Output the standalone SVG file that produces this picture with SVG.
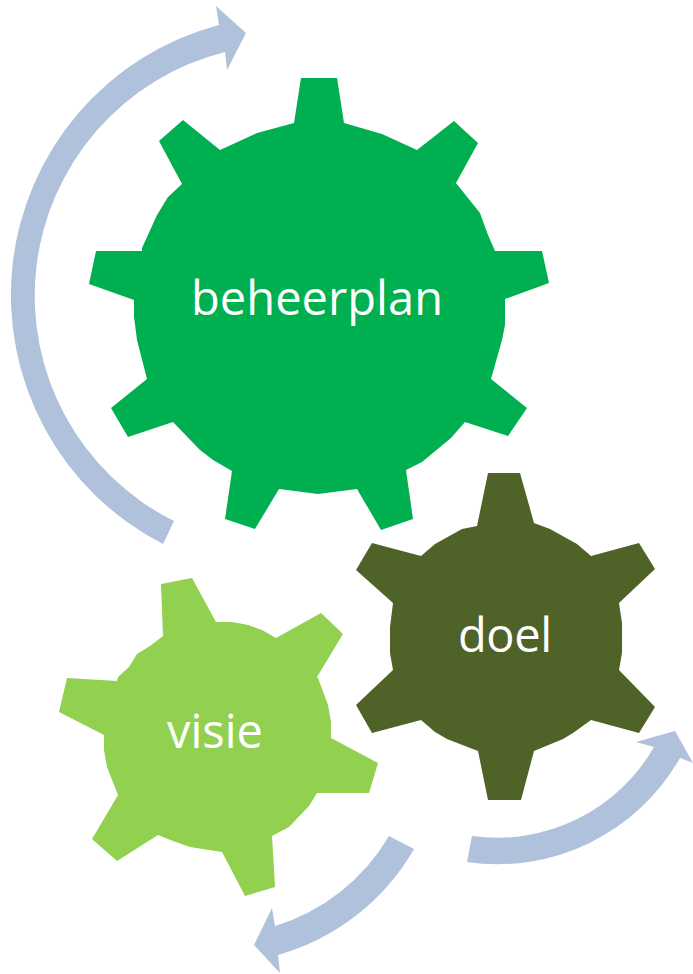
<svg xmlns="http://www.w3.org/2000/svg" width="693" height="974" viewBox="0 0 693 974">
<style>
.arrow{fill:#b0c1dc}
.label{fill:#fff;font-family:"Open Sans","Noto Sans","Liberation Sans",sans-serif;font-size:47px;font-weight:400;text-anchor:start}
</style>
<rect width="693" height="974" fill="#fff"/>
<g id="connectors">
<path id="arrow-big" class="arrow" d="M163 544A279.500 279.500 0 0 1 219 25L216 6L246 33L227 70L225 52A251.500 251.500 0 0 0 174 521Z"/>
<path id="arrow-right" class="arrow" d="M467 862L472 836A181 181 0 0 0 654 747L636 742L675 731L693 763L680 758A210 210 0 0 1 467 862Z"/>
<path id="arrow-bottom" class="arrow" d="M389 836L414 849A228 228 0 0 1 278 955L280 973L254 945L272 908L275 926A199.500 199.500 0 0 0 389 836Z"/>
</g>
<g id="node-beheerplan">
<polygon fill="#00b050" points="301,78 337,78 344,123 382,134 417,150 454,121 478,143 456,183 480,213 488,235 495,251 542,251 549,283 505,299 505,325 502,340 491,379 527,408 508,436 465,422 451,438 422,462 406,470 413,519 381,530 357,489 318,494 279,489 255,529 225,519 232,471 213,460 200,450 173,422 128,437 111,408 147,379 137,340 134,317 134,300 89,284 96,251 142,251 142,248 157,215 168,197 182,184 159,141 183,120 220,150 257,133 294,123"/>
<text class="label" x="191" y="315" textLength="252">beheerplan</text>
</g>
<g id="node-doel">
<polygon fill="#4f6228" points="488,473 520,473 534,523 550,529 577,544 591,556 639,543 655,569 619,603 622,623 622,653 619,670 655,707 639,733 591,720 573,733 563,739 534,751 521,800 488,800 478,751 447,739 435,732 421,720 372,733 356,705 393,670 390,653 390,627 393,603 356,570 372,543 421,556 435,544 462,529 477,526"/>
<text class="label" x="458" y="652" textLength="94">doel</text>
</g>
<g id="node-visie">
<polygon fill="#92d050" points="161,584 192,578 216,622 232,622 248,625 262,630 276,638 321,613 343,634 317,677 318,678 328,705 331,722 331,738 378,763 369,793 317,793 309,806 289,827 272,836 275,887 245,896 222,852 190,847 173,841 158,835 117,861 92,839 118,795 107,767 104,750 104,735 59,712 67,678 117,681 118,677 129,667 137,654 150,646 163,636"/>
<text class="label" x="167" y="748" textLength="96">visie</text>
</g>
</svg>
